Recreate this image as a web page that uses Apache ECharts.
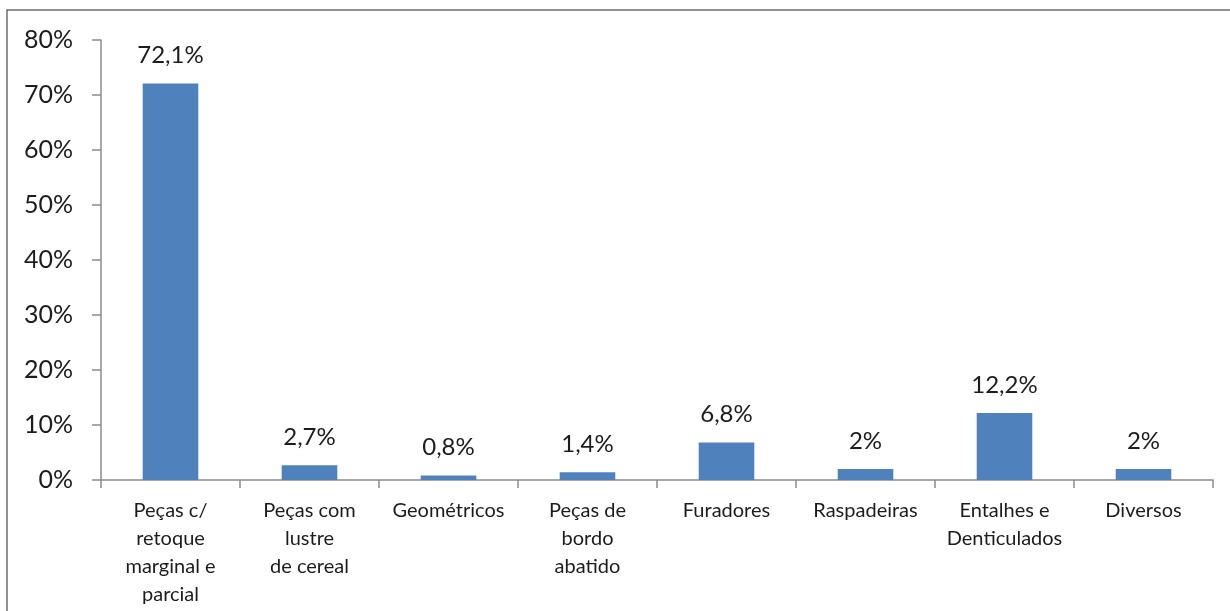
<!DOCTYPE html>
<html>
<head>
<meta charset="utf-8">
<script src="https://cdn.jsdelivr.net/npm/echarts@6/dist/echarts.min.js"></script>
<style>
  html, body { margin: 0; padding: 0; background: #fff; }
  #chart { width: 1230px; height: 611px; }
</style>
</head>
<body>
<div id="chart"></div>
<script>
// Tool type categories (line breaks as drawn under the axis)
const categories = [
  'Peças c/\nretoque\nmarginal e\nparcial',
  'Peças com\nlustre\nde cereal',
  'Geométricos',
  'Peças de\nbordo\nabatido',
  'Furadores',
  'Raspadeiras',
  'Entalhes e\nDenticulados',
  'Diversos'
];
// Share of each type, in percent
const values = [72.1, 2.7, 0.8, 1.4, 6.8, 2, 12.2, 2];
// Value axis range and step, in percent
const yMin = 0;
const yMax = 80;
const yStep = 10;

const fmtPct = v => String(v).replace('.', ',') + '%';

const chart = echarts.init(document.getElementById('chart'), null, { renderer: 'canvas' });
const textColor = '#1c1c1c';
const axisColor = '#8c8c8c';
const font = 'Lato, "Open Sans", sans-serif';

chart.setOption({
  animation: false,
  backgroundColor: '#fff',
  graphic: [{
    type: 'rect',
    shape: { x: 7, y: 10, width: 1300, height: 700 },
    style: { fill: 'none', stroke: '#6e6e6e', lineWidth: 1.5 },
    silent: true
  }],
  grid: { left: 101, right: 17, top: 40, bottom: 131, containLabel: false },
  xAxis: {
    type: 'category',
    data: categories,
    axisLine: { lineStyle: { color: axisColor, width: 1.5 } },
    axisTick: { show: true, length: 8, lineStyle: { color: axisColor, width: 1.5 } },
    axisLabel: {
      interval: 0,
      margin: 17,
      color: textColor,
      fontFamily: font,
      fontSize: 20,
      lineHeight: 28,
      align: 'center'
    },
    splitLine: { show: false }
  },
  yAxis: {
    type: 'value',
    min: yMin,
    max: yMax,
    interval: yStep,
    axisLine: { show: true, lineStyle: { color: axisColor, width: 1.5 } },
    axisTick: { show: true, length: 9, lineStyle: { color: axisColor, width: 1.5 } },
    axisLabel: {
      margin: 28,
      color: textColor,
      fontFamily: font,
      fontSize: 25,
      formatter: v => v + '%'
    },
    splitLine: { show: false }
  },
  series: [{
    type: 'bar',
    data: values,
    barWidth: '40%',
    itemStyle: { color: '#4F81BD' },
    label: {
      show: true,
      position: 'top',
      distance: 16,
      color: textColor,
      fontFamily: font,
      fontSize: 24,
      formatter: p => fmtPct(p.value)
    }
  }]
});
</script>
</body>
</html>
